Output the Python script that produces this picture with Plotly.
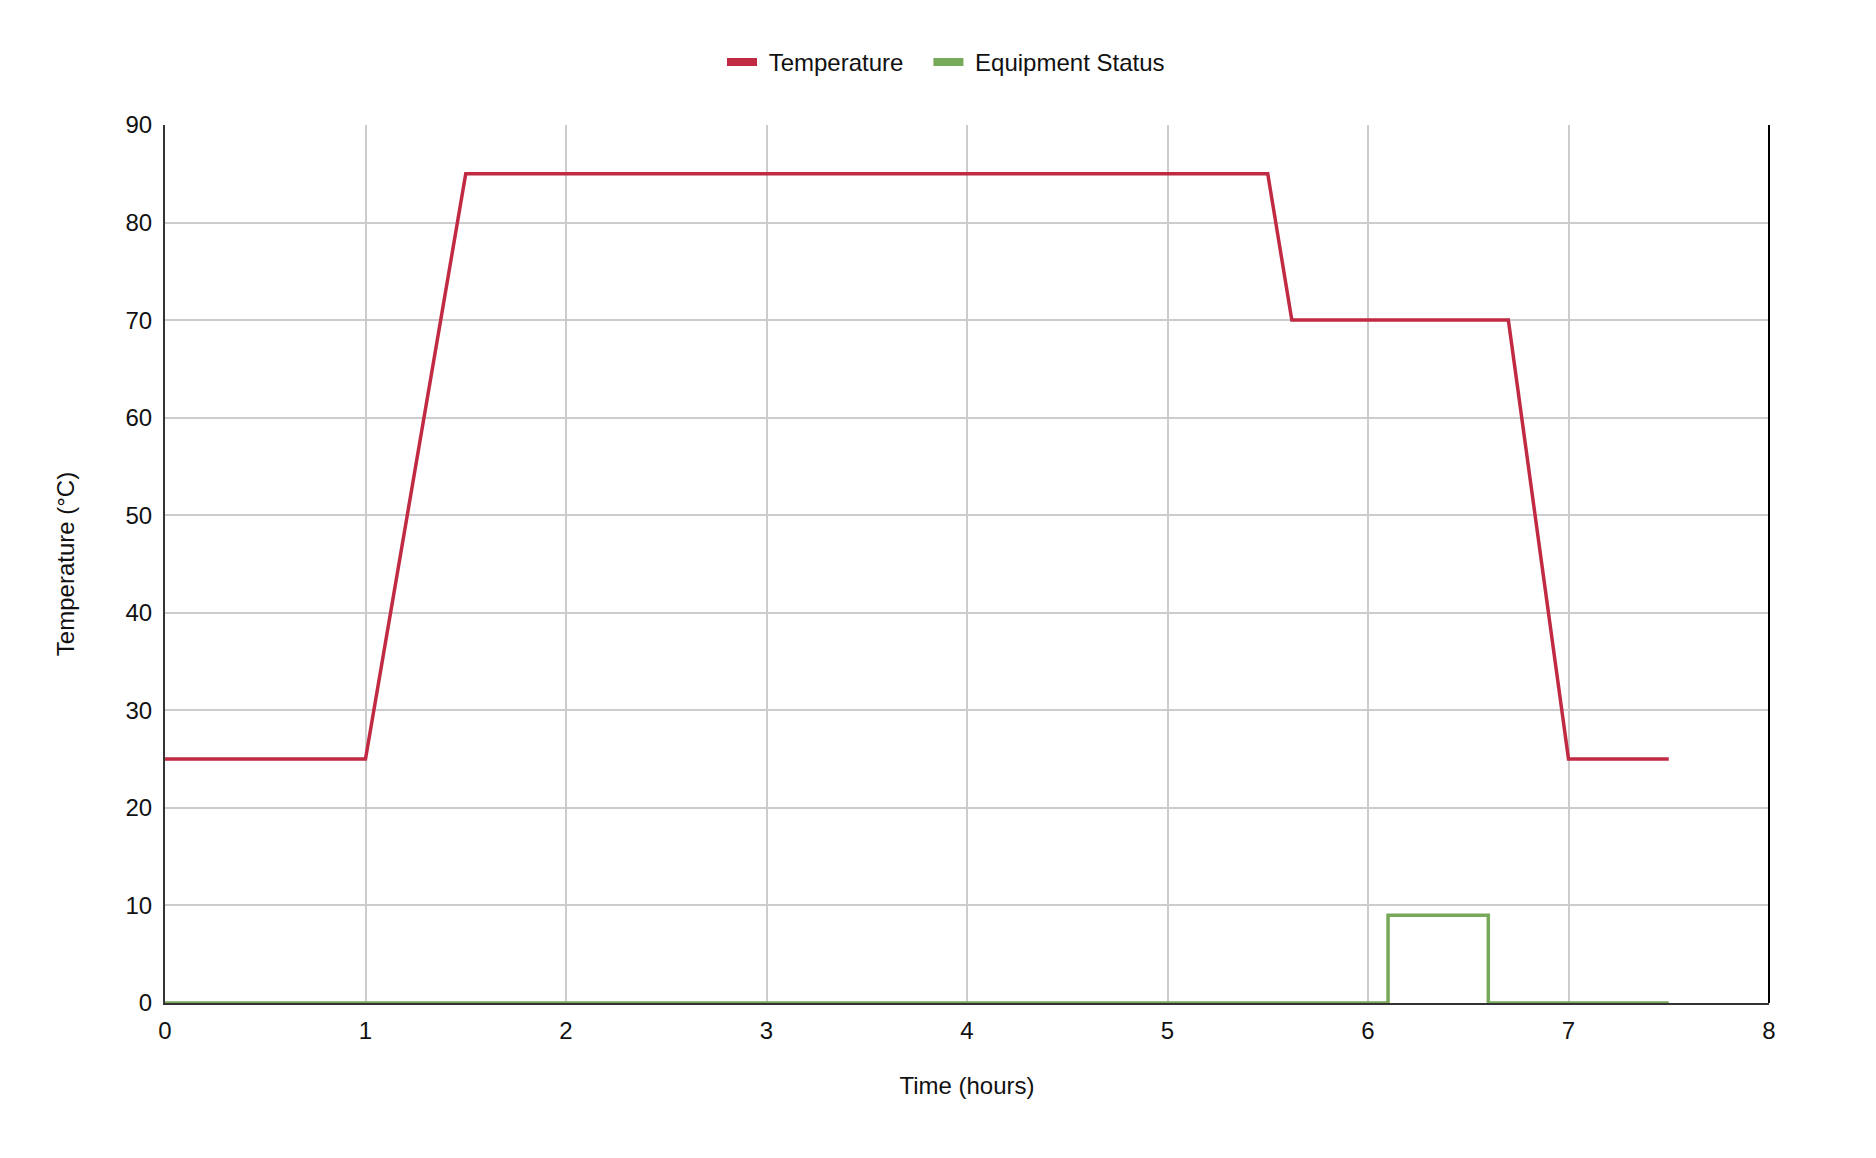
import plotly.graph_objects as go

# temperature profile (hours, °C)
temp_time = [0, 1, 1.5, 5.5, 5.62, 6.7, 7, 7.5]
temp_values = [25, 25, 85, 85, 70, 70, 25, 25]

# equipment status trace
status_time = [0, 6.1, 6.1, 6.6, 6.6, 7.5]
status_values = [0, 0, 9, 9, 0, 0]

x_ticks = [0, 1, 2, 3, 4, 5, 6, 7, 8]
y_ticks = [0, 10, 20, 30, 40, 50, 60, 70, 80, 90]

red = '#c12a43'
green = '#78a85a'
font = "Liberation Sans, Arial, sans-serif"
nb = '\u00a0'  # padding inside legend labels

fig = go.Figure()
fig.add_trace(go.Scatter(x=temp_time, y=temp_values, mode='lines', name='Temperature',
                         line=dict(color=red, width=3.5), showlegend=False))
fig.add_trace(go.Scatter(x=status_time, y=status_values, mode='lines', name='Equipment Status',
                         line=dict(color=green, width=3.5), showlegend=False))
# thick legend swatches like the original
fig.add_trace(go.Scatter(x=[None], y=[None], mode='lines', name=nb + 'Temperature' + nb * 3,
                         line=dict(color=red, width=8)))
fig.add_trace(go.Scatter(x=[None], y=[None], mode='lines', name=nb + 'Equipment Status',
                         line=dict(color=green, width=8)))

fig.update_xaxes(range=[0, 8], tickvals=x_ticks, showgrid=True, gridcolor='#cccccc', gridwidth=1.5,
                 showline=True, linecolor='#333333', linewidth=2, layer='below traces',
                 ticks='', ticklabelstandoff=5, zeroline=False,
                 title=dict(text='Time (hours)', standoff=34, font=dict(size=24, color='#111')),
                 tickfont=dict(size=24, color='#111'))
fig.update_yaxes(range=[0, 90], tickvals=y_ticks, showgrid=True, gridcolor='#cccccc', gridwidth=1.5,
                 showline=True, linecolor='#333333', linewidth=2, layer='below traces',
                 ticks='outside', ticklen=6, tickcolor='rgba(0,0,0,0)', zeroline=False,
                 title=dict(text='Temperature (°C)', standoff=44, font=dict(size=24, color='#111')),
                 tickfont=dict(size=24, color='#111'))

# black border on the right side
fig.add_shape(type='line', xref='paper', yref='paper', x0=1, x1=1, y0=0, y1=1,
              line=dict(color='#000000', width=2))

fig.update_layout(
    width=1876, height=1158,
    plot_bgcolor='white', paper_bgcolor='white',
    font=dict(family=font, size=24, color='#111'),
    margin=dict(l=157, r=115, t=117, b=163),
    showlegend=True,
    legend=dict(orientation='h', xref='container', yref='container', x=0.5, y=0.953,
                xanchor='center', yanchor='middle', font=dict(size=24), itemwidth=30),
)

fig.write_html("out.html")
